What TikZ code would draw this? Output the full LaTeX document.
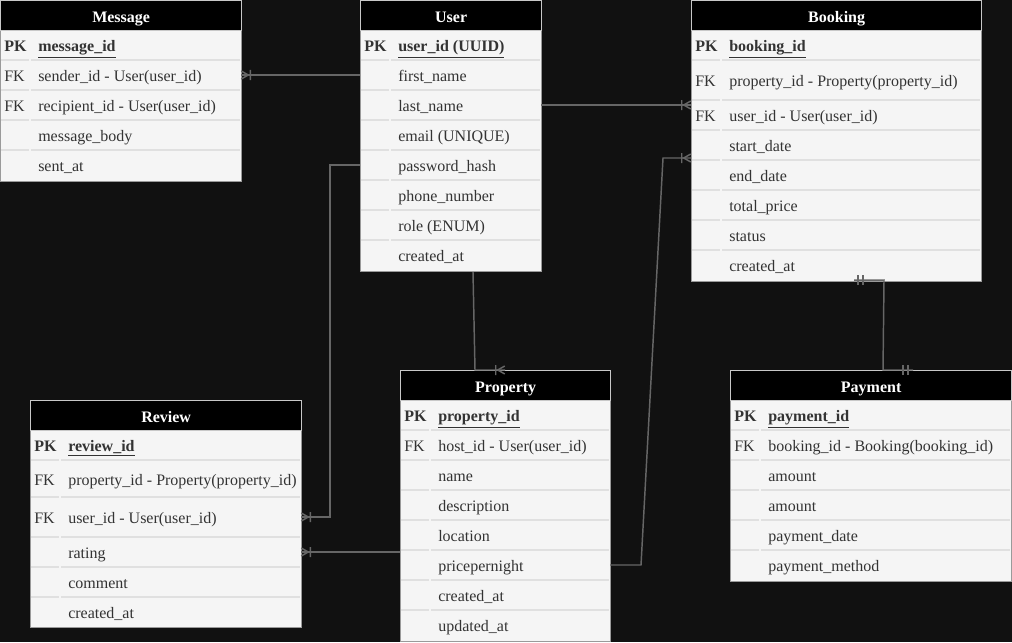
\documentclass[tikz,border=0pt]{standalone}
\usepackage{fontspec}
\setmainfont{Liberation Serif}
\usetikzlibrary{calc,decorations.markings}

\definecolor{bgdark}{HTML}{111111}
\definecolor{bodyfill}{HTML}{F5F5F5}
\definecolor{tableedge}{HTML}{9A9A9A}
\definecolor{headedge}{HTML}{C8C8C8}
\definecolor{rowsep}{HTML}{E0E0E0}
\definecolor{inktext}{HTML}{333333}
\definecolor{wirecol}{HTML}{666666}

% short bar across a connector, used inside markings
\newcommand\wirebar{\draw[wirecol,line width=1.1pt] (0,-3.75pt) -- (0,3.75pt);}

\tikzset{
  tablebox/.style={draw=tableedge, line width=0.9pt, fill=bodyfill,
    anchor=north west, inner sep=0pt},
  headbox/.style={draw=headedge, line width=1pt, fill=black, text=white,
    font=\fontsize{12}{14}\selectfont\bfseries, anchor=north west, inner sep=0pt,
    minimum height=22.5pt, text height=9.9pt, text depth=0.1pt},
  rowbox/.style={anchor=north west, inner sep=0pt, outer sep=0pt},
  celltext/.style={anchor=west, inner sep=0pt, text=inktext,
    font=\fontsize{12}{14}\selectfont,
    text height=9.9pt, text depth=0.1pt},
  rowline/.style={draw=rowsep, line width=0.8pt},
  wire/.style={draw=wirecol, line width=1.1pt},
  crowend/.style={postaction={decorate}, decoration={markings,
    mark=at position -0.2pt with {\draw[wirecol, line width=1.1pt]
      (0,3pt) -- (-5.25pt,0) -- (0,-3pt)
      (-6.75pt,3.75pt) -- (-6.75pt,-3.75pt);}}},
  onebothends/.style={postaction={decorate}, decoration={markings,
    mark=at position 3pt with {\wirebar},
    mark=at position 6.75pt with {\wirebar},
    mark=at position -7.5pt with {\wirebar},
    mark=at position -3.75pt with {\wirebar}}},
}

% #1 name, #2 left x, #3 top y, #4 width, #5 height, #6 key, #7 column text
\newcommand\erow[7]{%
  \node[rowbox, minimum width=#4*0.75pt, minimum height=#5*0.75pt] (#1) at (#2,#3) {};
  \draw[rowline] ($(#1.north west)+(1,0)$) -- ($(#1.north west)+(29,0)$)
                 ($(#1.north west)+(31,0)$) -- ($(#1.north east)+(-1,0)$);
  \node[celltext] at ($(#1.west)+(4,0)$) {#6};
  \node[celltext] at ($(#1.west)+(38,0)$) {#7};
}
% #1 name, #2 left x, #3 top y, #4 width, #5 height
\newcommand\erbody[5]{%
  \node[tablebox, minimum width=#4*0.75pt, minimum height=#5*0.75pt] (#1) at (#2,#3) {};
}
% #1 name, #2 left x, #3 top y, #4 width, #5 title
\newcommand\erhead[5]{%
  \node[headbox, minimum width=#4*0.75pt] (#1) at (#2,#3) {#5};
}

\begin{document}
\begin{tikzpicture}[x=0.75pt, y=-0.75pt]
\fill[bgdark] (0,0) rectangle (1012,642);
\useasboundingbox (0,0) rectangle (1012,642);

% ---------- Message ----------
\erbody{msg}{0}{0}{241}{181}
\erow{msg-pk}{0}{30}{241}{30}{\textbf{PK}}{\underline{\textbf{message\_id}}}
\erow{msg-sender}{0}{60}{241}{30}{FK}{sender\_id - User(user\_id)}
\erow{msg-recip}{0}{90}{241}{30}{FK}{recipient\_id - User(user\_id)}
\erow{msg-body}{0}{120}{241}{30}{}{message\_body}
\erow{msg-sent}{0}{150}{241}{30}{}{sent\_at}
\erhead{msg-h}{0}{0}{241}{Message}

% ---------- User ----------
\erbody{usr}{360}{0}{181}{271}
\erow{usr-pk}{360}{30}{181}{30}{\textbf{PK}}{\underline{\textbf{user\_id (UUID)}}}
\erow{usr-first}{360}{60}{181}{30}{}{first\_name}
\erow{usr-last}{360}{90}{181}{30}{}{last\_name}
\erow{usr-email}{360}{120}{181}{30}{}{email (UNIQUE)}
\erow{usr-pwd}{360}{150}{181}{30}{}{password\_hash}
\erow{usr-phone}{360}{180}{181}{30}{}{phone\_number}
\erow{usr-role}{360}{210}{181}{30}{}{role (ENUM)}
\erow{usr-created}{360}{240}{181}{30}{}{created\_at}
\erhead{usr-h}{360}{0}{181}{User}

% ---------- Booking ----------
\erbody{bk}{691}{0}{290}{281}
\erow{bk-pk}{691}{30}{290}{30}{\textbf{PK}}{\underline{\textbf{booking\_id}}}
\erow{bk-prop}{691}{60}{290}{40}{FK}{property\_id - Property(property\_id)}
\erow{bk-user}{691}{100}{290}{30}{FK}{user\_id - User(user\_id)}
\erow{bk-start}{691}{130}{290}{30}{}{start\_date}
\erow{bk-end}{691}{160}{290}{30}{}{end\_date}
\erow{bk-total}{691}{190}{290}{30}{}{total\_price}
\erow{bk-status}{691}{220}{290}{30}{}{status}
\erow{bk-created}{691}{250}{290}{30}{}{created\_at}
\erhead{bk-h}{691}{0}{290}{Booking}

% ---------- Property ----------
\erbody{pr}{400}{370}{210}{271}
\erow{pr-pk}{400}{400}{210}{30}{\textbf{PK}}{\underline{\textbf{property\_id}}}
\erow{pr-host}{400}{430}{210}{30}{FK}{host\_id - User(user\_id)}
\erow{pr-name}{400}{460}{210}{30}{}{name}
\erow{pr-desc}{400}{490}{210}{30}{}{description}
\erow{pr-loc}{400}{520}{210}{30}{}{location}
\erow{pr-price}{400}{550}{210}{30}{}{pricepernight}
\erow{pr-created}{400}{580}{210}{30}{}{created\_at}
\erow{pr-updated}{400}{610}{210}{30}{}{updated\_at}
\erhead{pr-h}{400}{370}{210}{Property}

% ---------- Review ----------
\erbody{rv}{30}{400}{271}{227}
\erow{rv-pk}{30}{430}{271}{30}{\textbf{PK}}{\underline{\textbf{review\_id}}}
\erow{rv-prop}{30}{460}{271}{37}{FK}{property\_id - Property(property\_id)}
\erow{rv-user}{30}{497}{271}{40}{FK}{user\_id - User(user\_id)}
\erow{rv-rating}{30}{537}{271}{30}{}{rating}
\erow{rv-comment}{30}{567}{271}{30}{}{comment}
\erow{rv-created}{30}{597}{271}{30}{}{created\_at}
\erhead{rv-h}{30}{400}{271}{Review}

% ---------- Payment ----------
\erbody{pay}{730}{370}{281}{211}
\erow{pay-pk}{730}{400}{281}{30}{\textbf{PK}}{\underline{\textbf{payment\_id}}}
\erow{pay-bk}{730}{430}{281}{30}{FK}{booking\_id - Booking(booking\_id)}
\erow{pay-amt}{730}{460}{281}{30}{}{amount}
\erow{pay-amt2}{730}{490}{281}{30}{}{amount}
\erow{pay-date}{730}{520}{281}{30}{}{payment\_date}
\erow{pay-method}{730}{550}{281}{30}{}{payment\_method}
\erhead{pay-h}{730}{370}{281}{Payment}

% ---------- relationships ----------
\coordinate (usr-out) at ($(usr.south west)+(113,0)$);
\coordinate (pr-in) at ($(pr.north west)+(105,0)$);
\coordinate (bk-in) at ($(bk-start.south west)+(0,-2)$);
\coordinate (bk-out) at ($(bk.south west)+(163,-2)$);
\coordinate (pay-in) at ($(pay.north west)+(183,0)$);
\coordinate (pr-out) at ($(pr-price.north west)+(0,2)$);

% User 1..* Message
\draw[wire, crowend] (usr-first.west) -- (msg-sender.east);
% User 1..* Booking
\draw[wire, crowend] (usr-last.east) -- (bk.west |- usr-last.east);
% User 1..* Review
\draw[wire, crowend] (usr-pwd.west) -- ++(-30,0) |- (rv-user.east);
% User 1..* Property
\draw[wire, crowend] (usr-out) -- ($(pr-in)+(-30,0)$) -- (pr-in);
% Property 1..* Booking
\draw[wire, crowend] (pr-price.east) -- ++(31,0) -- ($(bk-in)+(-28,0)$) -- (bk-in);
% Property 1..* Review
\draw[wire, crowend] (pr-out) -- (rv-rating.east |- pr-out);
% Booking 1..1 Payment
\draw[wire, onebothends] (bk-out) -- ++(30,0) -- ($(pay-in)+(-30,0)$) -- (pay-in);
\end{tikzpicture}
\end{document}
